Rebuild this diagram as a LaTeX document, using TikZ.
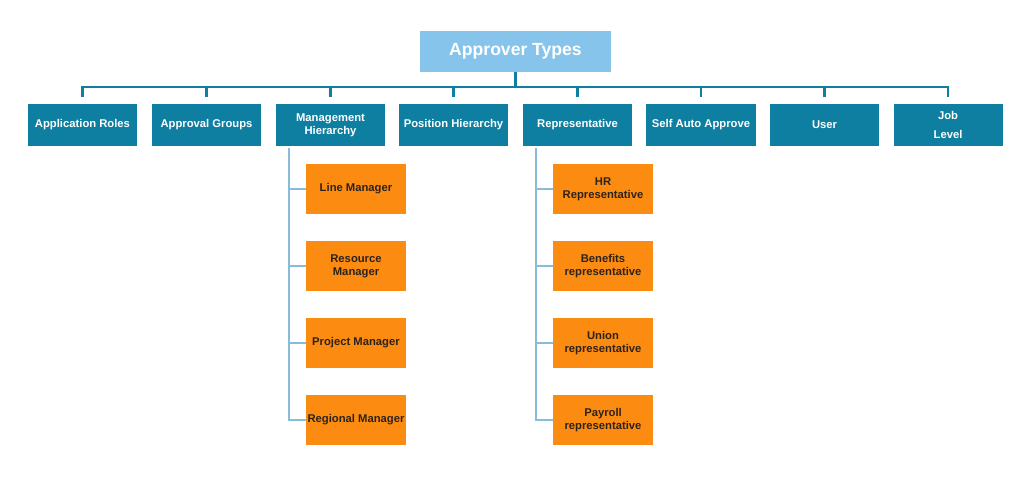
\documentclass[tikz,border=0pt]{standalone}
\usepackage{fontspec}
\setmainfont{Liberation Sans}
\definecolor{teal1}{RGB}{14,127,160}
\definecolor{sky1}{RGB}{134,196,235}
\definecolor{org1}{RGB}{252,139,18}
\definecolor{stem1}{RGB}{135,188,218}
\definecolor{ink1}{RGB}{45,35,25}

\begin{document}
\begin{tikzpicture}
  [x=0.025cm,y=-0.025cm,
   head/.style={fill=sky1,text=white,minimum width=4.775cm,minimum height=1.025cm,font=\fontsize{12.5}{14}\selectfont\bfseries},
   kind/.style={fill=teal1,text=white,minimum width=2.725cm,minimum height=1.05cm,align=center,inner sep=1pt,font=\fontsize{8}{9.4}\selectfont\bfseries},
   sub/.style={fill=org1,text=ink1,minimum width=2.5cm,minimum height=1.25cm,align=center,inner sep=1pt,font=\fontsize{8}{9.4}\selectfont\bfseries}]
  \useasboundingbox (0,0) rectangle (1024,477);
  \node[head] (top) at (515.5,51.5) {Approver Types};
  \node[kind] (ar) at (82.5,125) {Application Roles};
  \node[kind] (ag) at (206.5,125) {Approval Groups};
  \node[kind] (mh) at (330.5,125) {Management\\Hierarchy};
  \node[kind] (ph) at (453.5,125) {Position Hierarchy};
  \node[kind] (rp) at (577.5,125) {Representative};
  \node[kind] (sa) at (701,125) {Self Auto Approve};
  \node[kind] (us) at (824.5,125) {User};
  \node[kind] (jl) at (948,125) {Job\\[3.5pt]Level};
  \node[sub] (lm) at (356,189) {Line Manager};
  \node[sub] (rm) at (356,266) {Resource\\Manager};
  \node[sub] (pm) at (356,343) {Project Manager};
  \node[sub] (gm) at (356,420) {Regional Manager};
  \node[sub] (hr) at (603,189) {HR\\Representative};
  \node[sub] (br) at (603,266) {Benefits\\representative};
  \node[sub] (ur) at (603,343) {Union\\representative};
  \node[sub] (pr) at (603,420) {Payroll\\representative};
  \foreach \to in {ar,ag,mh,ph,rp,sa,us,jl}
    \draw[teal1,line width=1.6pt] (top.south) -- ++(0,15) -| ([yshift=5pt]\to.north);
  \foreach \from/\to in {mh/lm,mh/rm,mh/pm,mh/gm,rp/hr,rp/br,rp/ur,rp/pr}
    \draw[stem1,line width=1.4pt] ([xshift=9.5pt,yshift=-1.5pt]\from.south west) |- (\to.west);

\end{tikzpicture}
\end{document}
